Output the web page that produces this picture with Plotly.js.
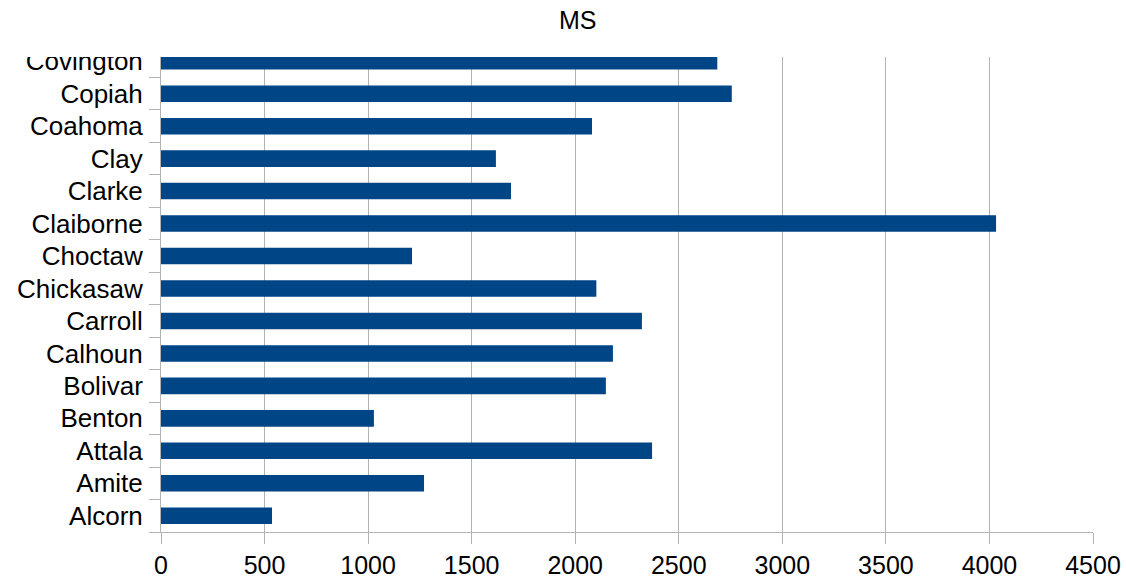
<!DOCTYPE html>
<html>
<head>
<meta charset="utf-8">
<script src="https://cdn.plot.ly/plotly-3.0.1.min.js"></script>
<style>html,body{margin:0;padding:0;background:#fff;}#chart{width:1126px;height:584px;}</style>
</head>
<body>
<div id="chart"></div>
<script>
const counties = ["Alcorn","Amite","Attala","Benton","Bolivar","Calhoun","Carroll","Chickasaw","Choctaw","Claiborne","Clarke","Clay","Coahoma","Copiah","Covington"];
const values = [536, 1270, 2371, 1028, 2148, 2182, 2322, 2102, 1212, 4032, 1690, 1617, 2081, 2756, 2686];
const xTicks = [0, 500, 1000, 1500, 2000, 2500, 3000, 3500, 4000, 4500];
const chartTitle = "MS";

const font = "Liberation Sans, Arial, sans-serif";
const trace = {
  type: "bar",
  orientation: "h",
  y: counties,
  x: values,
  width: 0.51,
  marker: {color: "#004586", line: {width: 0}},
  hoverinfo: "x+y"
};
const layout = {
  width: 1126, height: 584,
  paper_bgcolor: "#fff", plot_bgcolor: "#fff",
  margin: {l: 161, r: 33, t: 57, b: 51.5, pad: 0},
  showlegend: false,
  font: {family: font, size: 25, color: "#000"},
  title: {text: chartTitle, font: {family: font, size: 25, color: "#000"},
          xref: "container", x: 0.513, xanchor: "center",
          yref: "container", y: 0.966, yanchor: "middle"},
  xaxis: {
    range: [0, 4500], tickvals: xTicks, ticktext: xTicks.map(String),
    showgrid: true, gridcolor: "#b3b3b3", gridwidth: 1,
    zeroline: false, showline: true, linecolor: "#b3b3b3", linewidth: 1,
    ticks: "outside", ticklen: 11, tickcolor: "#b3b3b3", tickwidth: 1,
    tickfont: {family: font, size: 25, color: "#000"}, fixedrange: true
  },
  yaxis: {
    type: "category", categoryorder: "array", categoryarray: counties,
    range: [-0.5, 14.13],
    showgrid: false, zeroline: false, showline: true, linecolor: "#b3b3b3", linewidth: 1,
    ticks: "outside", ticklen: 11, tickcolor: "#b3b3b3", tickwidth: 1, tickson: "boundaries",
    ticklabelstandoff: 12,
    tickfont: {family: font, size: 26, color: "#000"}, fixedrange: true
  },
  shapes: [{
    type: "rect", xref: "paper", yref: "paper", layer: "above",
    x0: -0.2, x1: -0.001, y0: 1.0, y1: 1.03,
    fillcolor: "#fff", line: {width: 0}
  }]
};
Plotly.newPlot("chart", [trace], layout, {displayModeBar: false, staticPlot: true});
</script>
</body>
</html>
